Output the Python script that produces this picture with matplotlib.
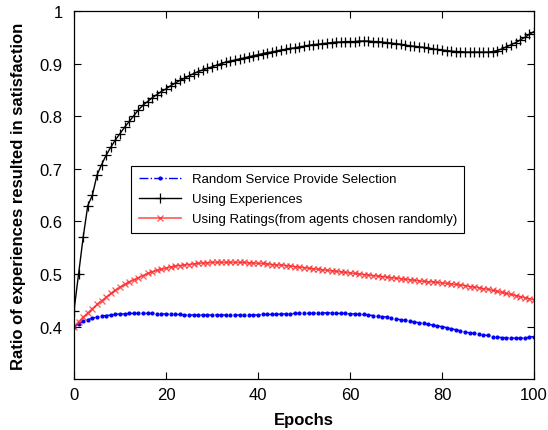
import numpy as np
import matplotlib
matplotlib.use('Agg')
import matplotlib.pyplot as plt

plt.rcParams['font.family'] = ['Liberation Sans', 'DejaVu Sans']

epochs = np.arange(0, 101)

# one value per epoch
experiences = [
    0.430, 0.500, 0.570, 0.630, 0.650, 0.688, 0.708, 0.726, 0.741, 0.755,
    0.767, 0.779, 0.790, 0.801, 0.812, 0.821, 0.828, 0.835, 0.841, 0.847,
    0.852, 0.858, 0.863, 0.868, 0.872, 0.877, 0.881, 0.885, 0.888, 0.891,
    0.894, 0.897, 0.900, 0.903, 0.905, 0.907, 0.909, 0.911, 0.913, 0.915,
    0.917, 0.919, 0.921, 0.922, 0.924, 0.926, 0.927, 0.929, 0.930, 0.932,
    0.933, 0.935, 0.936, 0.937, 0.938, 0.939, 0.940, 0.941, 0.941, 0.942,
    0.942, 0.942, 0.943, 0.943, 0.943, 0.942, 0.942, 0.941, 0.940, 0.939,
    0.938, 0.937, 0.935, 0.934, 0.933, 0.932, 0.931, 0.930, 0.928, 0.927,
    0.926, 0.925, 0.924, 0.923, 0.923, 0.922, 0.922, 0.922, 0.922, 0.922,
    0.922, 0.923, 0.925, 0.928, 0.932, 0.936, 0.940, 0.945, 0.950, 0.956,
    0.961]

ratings = [
    0.400, 0.409, 0.418, 0.426, 0.434, 0.442, 0.449, 0.456, 0.463, 0.469,
    0.475, 0.480, 0.485, 0.489, 0.493, 0.497, 0.501, 0.504, 0.507, 0.509,
    0.511, 0.513, 0.515, 0.516, 0.517, 0.518, 0.519, 0.520, 0.521, 0.521,
    0.522, 0.522, 0.522, 0.522, 0.522, 0.522, 0.522, 0.522, 0.521, 0.521,
    0.520, 0.520, 0.519, 0.518, 0.517, 0.517, 0.516, 0.515, 0.514, 0.513,
    0.512, 0.511, 0.510, 0.509, 0.508, 0.507, 0.506, 0.505, 0.504, 0.503,
    0.502, 0.501, 0.500, 0.499, 0.498, 0.497, 0.496, 0.495, 0.494, 0.493,
    0.492, 0.491, 0.490, 0.489, 0.488, 0.487, 0.486, 0.485, 0.485, 0.484,
    0.483, 0.482, 0.481, 0.480, 0.479, 0.478, 0.476, 0.475, 0.474, 0.472,
    0.471, 0.469, 0.467, 0.465, 0.463, 0.461, 0.459, 0.457, 0.455, 0.453,
    0.451]

random_sel = [
    0.400, 0.405, 0.410, 0.413, 0.416, 0.418, 0.420, 0.421, 0.422, 0.423,
    0.424, 0.424, 0.425, 0.425, 0.425, 0.425, 0.425, 0.425, 0.424, 0.424,
    0.424, 0.423, 0.423, 0.423, 0.422, 0.422, 0.422, 0.422, 0.422, 0.422,
    0.422, 0.422, 0.422, 0.422, 0.422, 0.422, 0.422, 0.422, 0.422, 0.422,
    0.422, 0.423, 0.423, 0.423, 0.423, 0.424, 0.424, 0.424, 0.425, 0.425,
    0.425, 0.425, 0.425, 0.426, 0.426, 0.426, 0.426, 0.425, 0.425, 0.425,
    0.424, 0.424, 0.423, 0.423, 0.422, 0.421, 0.420, 0.419, 0.418, 0.416,
    0.415, 0.413, 0.412, 0.410, 0.409, 0.407, 0.406, 0.404, 0.403, 0.401,
    0.400, 0.398, 0.396, 0.394, 0.392, 0.390, 0.388, 0.387, 0.385, 0.384,
    0.383, 0.381, 0.380, 0.379, 0.379, 0.378, 0.378, 0.378, 0.378, 0.380,
    0.381]

labels = ['Random Service Provide Selection',
          'Using Experiences',
          'Using Ratings(from agents chosen randomly)']

fig = plt.figure(figsize=(5.48, 4.31), dpi=100)
ax = fig.add_axes([0.135, 0.118, 0.8395, 0.854])

ax.plot(epochs, random_sel, color='blue', linestyle='-.', linewidth=1,
        marker='.', markersize=4, label=labels[0])
ax.plot(epochs, experiences, color='black', linestyle='-', linewidth=1,
        marker='+', markersize=6.5, markeredgewidth=0.9, label=labels[1])
ax.plot(epochs, ratings, color='#ff2020', linestyle='-', linewidth=1.2,
        marker='x', markersize=4.5, markeredgewidth=0.9, alpha=0.75,
        label=labels[2])

ax.set_xlim(0, 100)
ax.set_ylim(0.3, 1.0)
ax.set_xticks([0, 20, 40, 60, 80, 100])
ax.set_yticks([0.4, 0.5, 0.6, 0.7, 0.8, 0.9, 1.0])
ax.set_yticklabels(['0.4', '0.5', '0.6', '0.7', '0.8', '0.9', '1'])
ax.tick_params(direction='in', top=True, right=True, labelsize=12,
               length=5, width=0.8)
ax.tick_params(axis='y', pad=8)
ax.tick_params(axis='x', pad=6)
for s in ax.spines.values():
    s.set_linewidth(0.9)

ax.set_xlabel('Epochs', fontsize=12, fontweight='bold', labelpad=7)
ax.set_ylabel('Ratio of experiences resulted in satisfaction', fontsize=12,
              fontweight='bold', labelpad=10)

leg = ax.legend(loc='upper left', bbox_to_anchor=(0.125, 0.58), fontsize=9.5,
                fancybox=False, framealpha=1, edgecolor='black',
                borderpad=0.55, borderaxespad=0, handlelength=3.2,
                labelspacing=0.6)
leg.get_frame().set_linewidth(0.8)

plt.savefig('out.png', dpi=100)
